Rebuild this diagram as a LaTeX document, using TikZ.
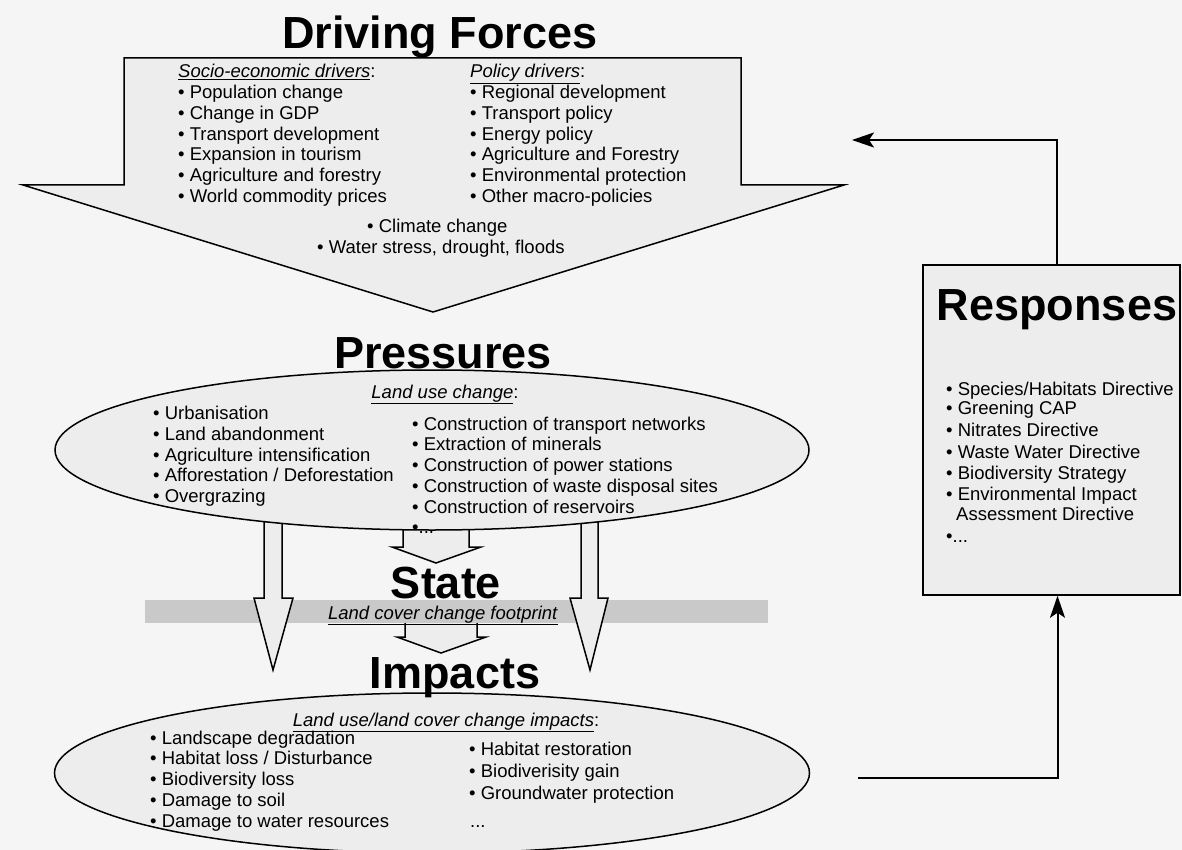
\documentclass[tikz,border=0pt]{standalone}
\usepackage{fontspec}
\setmainfont{Liberation Sans}
\usepackage{tikz}
\usetikzlibrary{shapes.geometric,arrows.meta}

\newcommand{\litem}{\textbullet\ }

\begin{document}
\begin{tikzpicture}[x=1pt,y=-1pt,
  txt/.style={anchor=base west,font=\fontsize{18.5}{21}\selectfont},
  hdr/.style={anchor=base,font=\fontsize{18.5}{21}\selectfont},
  ttl/.style={anchor=base,font=\fontsize{45}{45}\selectfont\bfseries},
  blk/.style={fill=gray!14,draw=black,line width=1.5pt,line join=miter},
  fb/.style={draw=black,line width=2pt,-{Stealth[length=22pt,width=15pt,inset=5pt]}}]
\tikzstyle{every node}+=[inner sep=0pt]
\useasboundingbox (0,0) rectangle (1182,850);
\fill [gray!8] (0,0) rectangle (1182,850);
% driving forces arrow
\draw [blk] (124,58) -- (741,58) -- (741,185) -- (844,185) -- (433,312) -- (23,185) -- (124,185) -- cycle;
\node [ttl] (dftitle) at (440,49) {Driving Forces};
\node [txt] (se0) at (178,78) {\underline{\textit{Socio-economic drivers}}:};
\node [txt] (se1) at (178,99) {\litem Population change};
\node [txt] (se2) at (178,120) {\litem Change in GDP};
\node [txt] (se3) at (178,141) {\litem Transport development};
\node [txt] (se4) at (178,161) {\litem Expansion in tourism};
\node [txt] (se5) at (178,182) {\litem Agriculture and forestry};
\node [txt] (se6) at (178,203) {\litem World commodity prices};
\node [txt] (po0) at (470,78) {\underline{\textit{Policy drivers}}:};
\node [txt] (po1) at (470,99) {\litem Regional development};
\node [txt] (po2) at (470,120) {\litem Transport policy};
\node [txt] (po3) at (470,141) {\litem Energy policy};
\node [txt] (po4) at (470,161) {\litem Agriculture and Forestry};
\node [txt] (po5) at (470,182) {\litem Environmental protection};
\node [txt] (po6) at (470,203) {\litem Other macro-policies};
\node [txt] (cc) at (367,233) {\litem Climate change};
\node [txt] (ws) at (317,253) {\litem Water stress, drought, floods};
% footprint band
\fill [gray!42] (145,600) rectangle (768,623);
% long arrows pressures -> impacts
\draw [blk] (264,520) -- (264,598) -- (254,598) -- (273,670) -- (293,598) -- (282,598) -- (282,520);
\draw [blk] (581,520) -- (581,598) -- (570,598) -- (590,670) -- (608,598) -- (598,598) -- (598,520);
% small arrows
\draw [blk] (403,525) -- (403,547) -- (392,547) -- (436,563) -- (481,547) -- (469,547) -- (469,525);
\draw [blk] (405,623) -- (405,637) -- (397,637) -- (441,653) -- (486,637) -- (477,637) -- (477,623);
% pressures
\node [ellipse,blk,minimum width=754pt,minimum height=160pt] (pres) at (432,450) {};
\node [ttl] (prtitle) at (443,368) {Pressures};
\node [hdr] (lu0) at (445,398) {\underline{\textit{Land use change}}:};
\node [txt] (pl1) at (153,419) {\litem Urbanisation};
\node [txt] (pl2) at (153,440) {\litem Land abandonment};
\node [txt] (pl3) at (153,461) {\litem Agriculture intensification};
\node [txt] (pl4) at (153,481) {\litem Afforestation / Deforestation};
\node [txt] (pl5) at (153,502) {\litem Overgrazing};
\node [txt] (pr1) at (412,430) {\litem Construction of transport networks};
\node [txt] (pr2) at (412,450) {\litem Extraction of minerals};
\node [txt] (pr3) at (412,471) {\litem Construction of power stations};
\node [txt] (pr4) at (412,492) {\litem Construction of waste disposal sites};
\node [txt] (pr5) at (412,513) {\litem Construction of reservoirs};
\node [txt] (pr6) at (412,533) {\textbullet...};
% state
\node [ttl] (sttitle) at (446,598) {State};
\node [hdr] (fp) at (443,619) {\underline{\textit{Land cover change footprint}}};
% impacts
\node [ellipse,blk,minimum width=755pt,minimum height=160pt] (imp) at (432,773) {};
\node [ttl] (imtitle) at (455,688) {Impacts};
\node [hdr] (ih0) at (446,726) {\underline{\textit{Land use/land cover change impacts}}:};
\node [txt] (il1) at (150,744) {\litem Landscape degradation};
\node [txt] (il2) at (150,764) {\litem Habitat loss / Disturbance};
\node [txt] (il3) at (150,785) {\litem Biodiversity loss};
\node [txt] (il4) at (150,806) {\litem Damage to soil};
\node [txt] (il5) at (150,827) {\litem Damage to water resources};
\node [txt] (ir1) at (469,755) {\litem Habitat restoration};
\node [txt] (ir2) at (469,777) {\litem Biodiverisity gain};
\node [txt] (ir3) at (469,799) {\litem Groundwater protection};
\node [txt] (ir4) at (470,827) {...};
% responses
\node [draw=black,fill=gray!14,line width=1.5pt,minimum width=257pt,minimum height=330pt] (resp) at (1051.5,430) {};
\node [ttl] (retitle) at (1057,320) {Responses};
\node [txt] (re1) at (946,395) {\litem Species/Habitats Directive};
\node [txt] (re2) at (946,414) {\litem Greening CAP};
\node [txt] (re3) at (946,436) {\litem Nitrates Directive};
\node [txt] (re4) at (946,458) {\litem Waste Water Directive};
\node [txt] (re5) at (946,479) {\litem Biodiversity Strategy};
\node [txt] (re6) at (946,500) {\litem Environmental Impact};
\node [txt] (re7) at (956,520) {Assessment Directive};
\node [txt] (re8) at (946,542) {\textbullet...};
% feedback loop
\coordinate (dfin) at (852,140);
\coordinate (impout) at (858,778);
\draw [fb] ([xshift=5pt]resp.north) |- (dfin);
\draw [fb] (impout) -| ([xshift=6pt]resp.south);
\end{tikzpicture}
\end{document}
